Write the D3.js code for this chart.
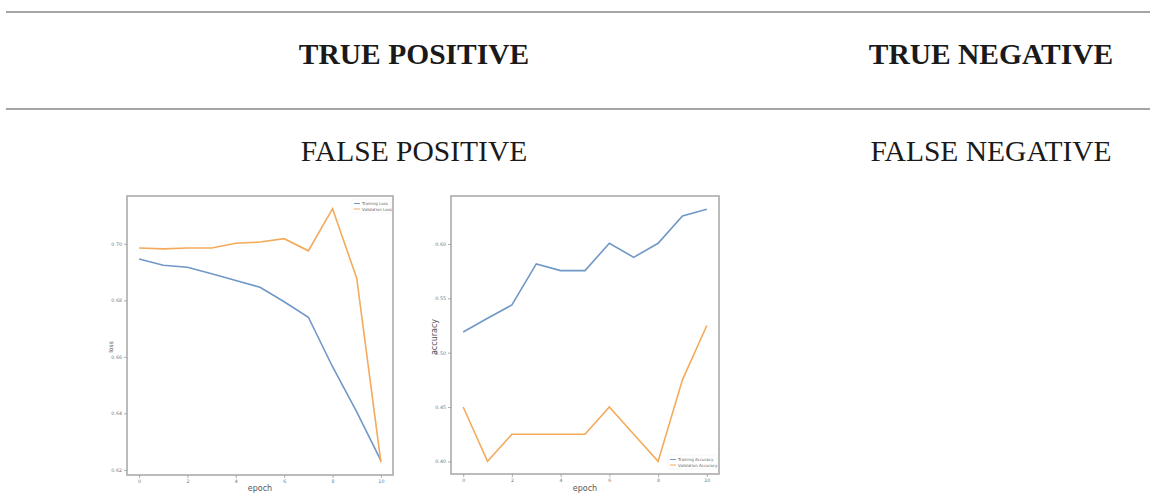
<!DOCTYPE html>
<html>
<head>
<meta charset="utf-8">
<script src="https://cdn.jsdelivr.net/npm/d3@7"></script>
<style>
  html, body { margin: 0; padding: 0; background: #fff; }
  svg { display: block; }
</style>
</head>
<body>
<svg id="page" width="1150" height="493"></svg>
<script>
// Confusion-matrix header labels
const headerTop = ["TRUE POSITIVE", "TRUE NEGATIVE"];
const headerBottom = ["FALSE POSITIVE", "FALSE NEGATIVE"];

// Training history (per epoch)
const epochs = [0, 1, 2, 3, 4, 5, 6, 7, 8, 9, 10];
const trainingLoss   = [0.6946, 0.6924, 0.6917, 0.6894, 0.6870, 0.6846, 0.6795, 0.6740, 0.6565, 0.6405, 0.6233];
const validationLoss = [0.6985, 0.6982, 0.6985, 0.6985, 0.7002, 0.7006, 0.7018, 0.6975, 0.7124, 0.6878, 0.6227];
const trainingAccuracy   = [0.519, 0.5316, 0.5439, 0.5816, 0.5755, 0.5755, 0.6006, 0.5877, 0.6006, 0.6258, 0.6319];
const validationAccuracy = [0.45, 0.40, 0.425, 0.425, 0.425, 0.425, 0.45, 0.425, 0.40, 0.475, 0.525];

// Tick labels
const epochTicks = [0, 2, 4, 6, 8, 10];
const lossTicks = [0.62, 0.64, 0.66, 0.68, 0.70];
const accuracyTicks = [0.40, 0.45, 0.50, 0.55, 0.60];

const svg = d3.select("#page");

// Horizontal rules of the table
const rules = [12, 109];
svg.selectAll("line.rule").data(rules).join("line")
  .attr("class", "rule")
  .attr("x1", 6).attr("x2", 1150)
  .attr("y1", d => d).attr("y2", d => d)
  .attr("stroke", "#a6a6a6").attr("stroke-width", 2);

const colX = [414, 991];
svg.selectAll("text.hdrTop").data(headerTop).join("text")
  .attr("class", "hdrTop")
  .attr("x", (d, i) => colX[i]).attr("y", 64)
  .attr("text-anchor", "middle")
  .attr("font-family", "'Liberation Serif', 'Times New Roman', serif")
  .attr("font-weight", "bold").attr("font-size", 29.5)
  .attr("fill", "#1a1a1a")
  .text(d => d);

svg.selectAll("text.hdrBottom").data(headerBottom).join("text")
  .attr("class", "hdrBottom")
  .attr("x", (d, i) => colX[i]).attr("y", 161)
  .attr("text-anchor", "middle")
  .attr("font-family", "'Liberation Serif', 'Times New Roman', serif")
  .attr("font-size", 29.5)
  .attr("fill", "#1a1a1a")
  .text(d => d);

const blue = "#7098c6";
const orange = "#f4aa5c";

function panel(opts) {
  const g = svg.append("g");
  const x = d3.scaleLinear().domain([-0.5, 10.5]).range([opts.left, opts.right]);
  const y = d3.scaleLinear().domain(opts.yDomain).range([opts.bottom, opts.top]);

  // Axes frame
  g.append("rect")
    .attr("x", opts.left).attr("y", opts.top)
    .attr("width", opts.right - opts.left).attr("height", opts.bottom - opts.top)
    .attr("fill", "none").attr("stroke", "#b4b4b4").attr("stroke-width", 1.8);

  const xAxis = g.append("g")
    .attr("transform", `translate(0,${opts.bottom})`)
    .call(d3.axisBottom(x).tickValues(epochTicks).tickFormat(d3.format("d")).tickSize(3).tickPadding(2));
  const yAxis = g.append("g")
    .attr("transform", `translate(${opts.left},0)`)
    .call(d3.axisLeft(y).tickValues(opts.yTicks).tickFormat(d3.format(".2f")).tickSize(3).tickPadding(2));
  [xAxis, yAxis].forEach(a => {
    a.select(".domain").remove();
    a.selectAll(".tick line").attr("stroke", "#999").attr("stroke-width", 0.8);
    a.selectAll(".tick text").attr("fill", "#777").attr("font-size", 4.8)
      .attr("font-family", "'DejaVu Sans', sans-serif");
  });

  const line = d3.line().x((d, i) => x(epochs[i])).y(d => y(d));
  g.append("path").datum(opts.train).attr("d", line)
    .attr("fill", "none").attr("stroke", blue).attr("stroke-width", 1.6);
  g.append("path").datum(opts.valid).attr("d", line)
    .attr("fill", "none").attr("stroke", orange).attr("stroke-width", 1.6);

  // Axis titles
  g.append("text")
    .attr("x", (opts.left + opts.right) / 2).attr("y", 491)
    .attr("text-anchor", "middle")
    .attr("font-family", "'DejaVu Sans', sans-serif")
    .attr("font-size", 8).attr("fill", "#555")
    .text("epoch");
  g.append("text")
    .attr("transform", `translate(${opts.yTitleX},${opts.yTitleY}) rotate(-90)`)
    .attr("text-anchor", "middle")
    .attr("font-family", "'DejaVu Sans', sans-serif")
    .attr("font-size", opts.yTitleSize).attr("fill", "#555")
    .text(opts.yTitle);

  // Legend
  const lg = g.append("g").attr("transform", `translate(${opts.legendX},${opts.legendY})`);
  lg.append("rect").attr("x", 0).attr("y", 0)
    .attr("width", opts.legendW).attr("height", 14)
    .attr("fill", "#fff").attr("stroke", "#eeeeee").attr("stroke-width", 0.5);
  opts.legendLabels.forEach((label, i) => {
    const yy = 4.5 + i * 5.5;
    lg.append("line").attr("x1", 2).attr("x2", 8).attr("y1", yy).attr("y2", yy)
      .attr("stroke", i === 0 ? blue : orange).attr("stroke-width", 1);
    lg.append("text").attr("x", 10).attr("y", yy + 1.5)
      .attr("font-family", "'DejaVu Sans', sans-serif")
      .attr("font-size", 4).attr("fill", "#666")
      .text(label);
  });
}

panel({
  left: 127, right: 393, top: 196, bottom: 475,
  yDomain: [0.6182, 0.7169], yTicks: lossTicks,
  train: trainingLoss, valid: validationLoss,
  yTitle: "loss", yTitleX: 113, yTitleY: 347, yTitleSize: 6,
  legendX: 352, legendY: 199, legendW: 39,
  legendLabels: ["Training Loss", "Validation Loss"]
});

panel({
  left: 451, right: 719, top: 196, bottom: 474,
  yDomain: [0.3884, 0.6441], yTicks: accuracyTicks,
  train: trainingAccuracy, valid: validationAccuracy,
  yTitle: "accuracy", yTitleX: 437, yTitleY: 337, yTitleSize: 8,
  legendX: 668, legendY: 455, legendW: 49,
  legendLabels: ["Training Accuracy", "Validation Accuracy"]
});
</script>
</body>
</html>
